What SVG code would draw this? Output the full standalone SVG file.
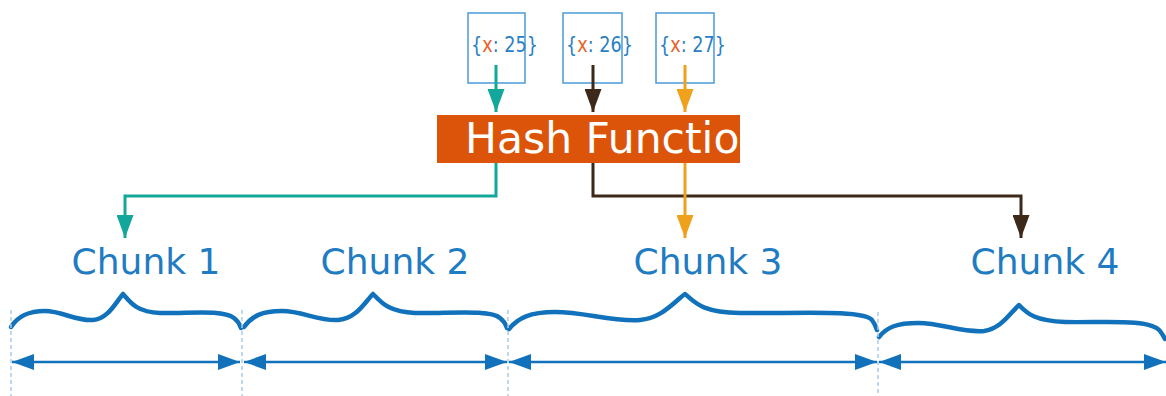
<svg xmlns="http://www.w3.org/2000/svg" width="1166" height="396" viewBox="0 0 1166 396">
<style>
.box{fill:none;stroke:#4a9ad8;stroke-width:1.5}
.lbl{font-family:"DejaVu Sans",sans-serif;font-size:21px;fill:#2a7fc4}
.xv{fill:#e8622a}
.chunk{font-family:"DejaVu Sans",sans-serif;font-size:36px;fill:#1f7cc2;text-anchor:middle}
.hash{font-family:"DejaVu Sans",sans-serif;font-size:42.5px;fill:#ffffff}
.brace{fill:none;stroke:#1172bb;stroke-width:4.5;stroke-linecap:round;stroke-linejoin:round}
.span{stroke:#1172bb;stroke-width:2.5;fill:none}
.sep{stroke:#a9cdea;stroke-width:1.5;stroke-dasharray:4 3;fill:none}
.teal{stroke:#12a79a;stroke-width:3;fill:none}
.brown{stroke:#3c2919;stroke-width:3;fill:none}
.orange{stroke:#f0a11c;stroke-width:3;fill:none}
</style>
<defs>
<clipPath id="hashClip"><rect x="437" y="115" width="303" height="48"/></clipPath>
<marker id="aTeal" viewBox="0 0 17 23" refX="8.5" refY="23" markerWidth="17" markerHeight="23" markerUnits="userSpaceOnUse" orient="0"><path d="M0,0 L17,0 L8.5,23 z" fill="#12a79a"/></marker>
<marker id="aBrown" viewBox="0 0 17 23" refX="8.5" refY="23" markerWidth="17" markerHeight="23" markerUnits="userSpaceOnUse" orient="0"><path d="M0,0 L17,0 L8.5,23 z" fill="#3c2919"/></marker>
<marker id="aOrange" viewBox="0 0 17 23" refX="8.5" refY="23" markerWidth="17" markerHeight="23" markerUnits="userSpaceOnUse" orient="0"><path d="M0,0 L17,0 L8.5,23 z" fill="#f0a11c"/></marker>
<marker id="aBlue" viewBox="0 0 22 16" refX="22" refY="8" markerWidth="22" markerHeight="16" markerUnits="userSpaceOnUse" orient="auto-start-reverse"><path d="M0,0 L22,8 L0,16 z" fill="#1172bb"/></marker>
</defs>

<g id="key25">
<rect class="box" x="468" y="13" width="57" height="70"/>
<text class="lbl" x="471" y="52" textLength="67" lengthAdjust="spacingAndGlyphs">{<tspan class="xv">x</tspan>: 25}</text>
</g>
<g id="key26">
<rect class="box" x="563" y="13" width="59" height="70"/>
<text class="lbl" x="566" y="52" textLength="67" lengthAdjust="spacingAndGlyphs">{<tspan class="xv">x</tspan>: 26}</text>
</g>
<g id="key27">
<rect class="box" x="656" y="13" width="58" height="70"/>
<text class="lbl" x="659" y="52" textLength="67" lengthAdjust="spacingAndGlyphs">{<tspan class="xv">x</tspan>: 27}</text>
</g>

<g id="hash">
<rect x="437" y="115" width="303" height="48" fill="#dc5409"/>
<text class="hash" x="465" y="153" clip-path="url(#hashClip)">Hash Functio</text>
</g>

<g id="chunk1">
<text class="chunk" x="146" y="274">Chunk 1</text>
<path class="brace" d="M11,327 C18,316 28,311 45,311 C62,311 75,321 93,320 C108,319 116,302 123,294 C130,302 136,312 160,313 C185,314 222,309 234,318 C238,321 240,325 241,328"/>
<line class="span" x1="12" y1="362" x2="240" y2="362" marker-start="url(#aBlue)" marker-end="url(#aBlue)"/>
</g>
<g id="chunk2">
<text class="chunk" x="395" y="274">Chunk 2</text>
<path class="brace" d="M244,327 C252,316 262,311 282,311 C302,311 318,321 338,320 C356,319 365,302 373,294 C381,302 388,312 415,313 C444,314 490,309 500,318 C504,321 506,325 507,328"/>
<line class="span" x1="244" y1="362" x2="507" y2="362" marker-start="url(#aBlue)" marker-end="url(#aBlue)"/>
</g>
<g id="chunk3">
<text class="chunk" x="708" y="274">Chunk 3</text>
<path class="brace" d="M509,329 C518,318 530,312 555,312 C585,312 612,322 640,320 C662,318 674,302 685,294 C695,302 700,312 740,313 C790,314 862,309 872,320 C875,324 876,327 877,330"/>
<line class="span" x1="509" y1="362" x2="877" y2="362" marker-start="url(#aBlue)" marker-end="url(#aBlue)"/>
</g>
<g id="chunk4">
<text class="chunk" x="1045" y="274">Chunk 4</text>
<path class="brace" d="M879,337 C887,327 897,323 918,323 C942,323 962,333 984,331 C1001,329 1011,312 1019,305 C1026,312 1033,321 1065,322 C1100,323 1150,318 1160,331 C1163,335 1164,337 1165,339"/>
<line class="span" x1="879" y1="362" x2="1166" y2="362" marker-start="url(#aBlue)" marker-end="url(#aBlue)"/>
</g>

<g id="separators">
<line class="sep" x1="11" y1="310" x2="11" y2="396"/>
<line class="sep" x1="242" y1="310" x2="242" y2="396"/>
<line class="sep" x1="508" y1="310" x2="508" y2="396"/>
<line class="sep" x1="878" y1="312" x2="878" y2="396"/>
</g>

<g id="connectors">
<path class="teal" d="M496,65 V112" marker-end="url(#aTeal)"/>
<path class="brown" d="M593,65 V112" marker-end="url(#aBrown)"/>
<path class="orange" d="M685,65 V112" marker-end="url(#aOrange)"/>
<path class="teal" d="M496,163 V196 H125 V238" marker-end="url(#aTeal)"/>
<path class="brown" d="M593,163 V196 H1021 V238" marker-end="url(#aBrown)"/>
<path class="orange" d="M685,163 V238" marker-end="url(#aOrange)"/>
</g>
</svg>
